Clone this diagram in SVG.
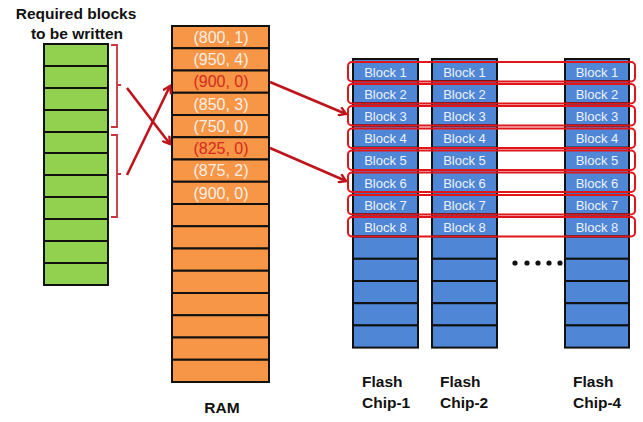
<svg xmlns="http://www.w3.org/2000/svg" width="643" height="422" viewBox="0 0 643 422">
<defs>
<style>
.lbl{font-family:"Liberation Sans",Arial,sans-serif;font-weight:bold;font-size:15.5px;fill:#111}
.g{fill:#92d050;stroke:#111;stroke-width:2}
.o{fill:#f79646;stroke:#111;stroke-width:2}
.b{fill:#4f86d6;stroke:#111;stroke-width:2}
.rt{font-family:"Liberation Sans",Arial,sans-serif;font-size:16px;fill:#f7efe6;text-anchor:middle}
.rr{fill:#d42a1e}
.bt{font-family:"Liberation Sans",Arial,sans-serif;font-size:13px;fill:#eef2fa;text-anchor:middle}
.sel{fill:none;stroke:#e0161b;stroke-width:2}
.br{fill:none;stroke:#c8343a;stroke-width:1.8}
.ar{fill:none;stroke:#c0141c;stroke-width:2.6}
</style>
<marker id="ah" markerWidth="10" markerHeight="10" refX="8" refY="5" orient="auto" markerUnits="userSpaceOnUse">
<path d="M1,0.5 L8,5 L1,9.5" fill="none" stroke="#c0141c" stroke-width="2.4"/>
</marker>
</defs>
<rect width="643" height="422" fill="#fff"/>

<g id="required">
<text class="lbl" x="76" y="19" text-anchor="middle">Required blocks</text>
<text class="lbl" x="77" y="39" text-anchor="middle">to be written</text>
<rect class="g" x="44" y="44" width="64" height="22"/>
<rect class="g" x="44" y="66" width="64" height="22"/>
<rect class="g" x="44" y="88" width="64" height="22"/>
<rect class="g" x="44" y="110" width="64" height="22"/>
<rect class="g" x="44" y="132" width="64" height="21"/>
<rect class="g" x="44" y="153" width="64" height="22"/>
<rect class="g" x="44" y="175" width="64" height="22"/>
<rect class="g" x="44" y="197" width="64" height="22"/>
<rect class="g" x="44" y="219" width="64" height="22"/>
<rect class="g" x="44" y="241" width="64" height="22"/>
<rect class="g" x="44" y="263" width="64" height="22"/>
<path class="br" d="M111,45 H117 V85 H121 M117,85 V127 H111"/>
<path class="br" d="M111,135 H117 V174 H121 M117,174 V217 H111"/>
</g>

<g id="ram">
<rect class="o" x="172" y="26" width="97" height="22.25"/>
<rect class="o" x="172" y="48.25" width="97" height="22.25"/>
<rect class="o" x="172" y="70.5" width="97" height="22.25"/>
<rect class="o" x="172" y="92.75" width="97" height="22.25"/>
<rect class="o" x="172" y="115" width="97" height="22.25"/>
<rect class="o" x="172" y="137.25" width="97" height="22.25"/>
<rect class="o" x="172" y="159.5" width="97" height="22.25"/>
<rect class="o" x="172" y="181.75" width="97" height="22.25"/>
<rect class="o" x="172" y="204" width="97" height="22.25"/>
<rect class="o" x="172" y="226.25" width="97" height="22.25"/>
<rect class="o" x="172" y="248.5" width="97" height="22.25"/>
<rect class="o" x="172" y="270.75" width="97" height="22.25"/>
<rect class="o" x="172" y="293" width="97" height="22.25"/>
<rect class="o" x="172" y="315.25" width="97" height="22.25"/>
<rect class="o" x="172" y="337.5" width="97" height="22.25"/>
<rect class="o" x="172" y="359.75" width="97" height="22.25"/>
<text class="rt" x="221" y="43">(800, 1)</text>
<text class="rt" x="221" y="65">(950, 4)</text>
<text class="rt rr" x="221" y="87">(900, 0)</text>
<text class="rt" x="221" y="110">(850, 3)</text>
<text class="rt" x="221" y="132">(750, 0)</text>
<text class="rt rr" x="221" y="154">(825, 0)</text>
<text class="rt" x="221" y="176">(875, 2)</text>
<text class="rt" x="221" y="199">(900, 0)</text>
<text class="lbl" x="222" y="413" text-anchor="middle">RAM</text>
</g>

<g id="chip1">
<rect class="b" x="353" y="59" width="65" height="22.2"/>
<rect class="b" x="353" y="81.2" width="65" height="22.2"/>
<rect class="b" x="353" y="103.4" width="65" height="22.2"/>
<rect class="b" x="353" y="125.6" width="65" height="22.2"/>
<rect class="b" x="353" y="147.8" width="65" height="22.2"/>
<rect class="b" x="353" y="170" width="65" height="22.2"/>
<rect class="b" x="353" y="192.2" width="65" height="22.2"/>
<rect class="b" x="353" y="214.4" width="65" height="22.2"/>
<rect class="b" x="353" y="236.6" width="65" height="22.2"/>
<rect class="b" x="353" y="258.8" width="65" height="22.2"/>
<rect class="b" x="353" y="281" width="65" height="22.2"/>
<rect class="b" x="353" y="303.2" width="65" height="22.2"/>
<rect class="b" x="353" y="325.4" width="65" height="22.2"/>
<text class="bt" x="385.5" y="77">Block 1</text>
<text class="bt" x="385.5" y="99">Block 2</text>
<text class="bt" x="385.5" y="121">Block 3</text>
<text class="bt" x="385.5" y="143">Block 4</text>
<text class="bt" x="385.5" y="165">Block 5</text>
<text class="bt" x="385.5" y="187.5">Block 6</text>
<text class="bt" x="385.5" y="209.5">Block 7</text>
<text class="bt" x="385.5" y="231.5">Block 8</text>
<text class="lbl" x="362" y="387">Flash</text>
<text class="lbl" x="362" y="408">Chip-1</text>
</g>

<g id="chip2">
<rect class="b" x="432" y="59" width="65" height="22.2"/>
<rect class="b" x="432" y="81.2" width="65" height="22.2"/>
<rect class="b" x="432" y="103.4" width="65" height="22.2"/>
<rect class="b" x="432" y="125.6" width="65" height="22.2"/>
<rect class="b" x="432" y="147.8" width="65" height="22.2"/>
<rect class="b" x="432" y="170" width="65" height="22.2"/>
<rect class="b" x="432" y="192.2" width="65" height="22.2"/>
<rect class="b" x="432" y="214.4" width="65" height="22.2"/>
<rect class="b" x="432" y="236.6" width="65" height="22.2"/>
<rect class="b" x="432" y="258.8" width="65" height="22.2"/>
<rect class="b" x="432" y="281" width="65" height="22.2"/>
<rect class="b" x="432" y="303.2" width="65" height="22.2"/>
<rect class="b" x="432" y="325.4" width="65" height="22.2"/>
<text class="bt" x="464.5" y="77">Block 1</text>
<text class="bt" x="464.5" y="99">Block 2</text>
<text class="bt" x="464.5" y="121">Block 3</text>
<text class="bt" x="464.5" y="143">Block 4</text>
<text class="bt" x="464.5" y="165">Block 5</text>
<text class="bt" x="464.5" y="187.5">Block 6</text>
<text class="bt" x="464.5" y="209.5">Block 7</text>
<text class="bt" x="464.5" y="231.5">Block 8</text>
<text class="lbl" x="440" y="387">Flash</text>
<text class="lbl" x="440" y="408">Chip-2</text>
</g>

<g id="dots" fill="#111">
<circle cx="515" cy="263" r="2.6"/>
<circle cx="527" cy="263" r="2.6"/>
<circle cx="538" cy="263" r="2.6"/>
<circle cx="549" cy="263" r="2.6"/>
<circle cx="560" cy="263" r="2.6"/>
</g>

<g id="chip4">
<rect class="b" x="565" y="59" width="64" height="22.2"/>
<rect class="b" x="565" y="81.2" width="64" height="22.2"/>
<rect class="b" x="565" y="103.4" width="64" height="22.2"/>
<rect class="b" x="565" y="125.6" width="64" height="22.2"/>
<rect class="b" x="565" y="147.8" width="64" height="22.2"/>
<rect class="b" x="565" y="170" width="64" height="22.2"/>
<rect class="b" x="565" y="192.2" width="64" height="22.2"/>
<rect class="b" x="565" y="214.4" width="64" height="22.2"/>
<rect class="b" x="565" y="236.6" width="64" height="22.2"/>
<rect class="b" x="565" y="258.8" width="64" height="22.2"/>
<rect class="b" x="565" y="281" width="64" height="22.2"/>
<rect class="b" x="565" y="303.2" width="64" height="22.2"/>
<rect class="b" x="565" y="325.4" width="64" height="22.2"/>
<text class="bt" x="597" y="77">Block 1</text>
<text class="bt" x="597" y="99">Block 2</text>
<text class="bt" x="597" y="121">Block 3</text>
<text class="bt" x="597" y="143">Block 4</text>
<text class="bt" x="597" y="165">Block 5</text>
<text class="bt" x="597" y="187.5">Block 6</text>
<text class="bt" x="597" y="209.5">Block 7</text>
<text class="bt" x="597" y="231.5">Block 8</text>
<text class="lbl" x="573" y="387">Flash</text>
<text class="lbl" x="573" y="408">Chip-4</text>
</g>

<g id="stripes">
<rect class="sel" x="348" y="62" width="287" height="19.5" rx="4"/>
<rect class="sel" x="348" y="84" width="287" height="19.5" rx="4"/>
<rect class="sel" x="348" y="106" width="287" height="19.5" rx="4"/>
<rect class="sel" x="348" y="128.5" width="287" height="19.5" rx="4"/>
<rect class="sel" x="348" y="150.5" width="287" height="19.5" rx="4"/>
<rect class="sel" x="348" y="172.5" width="287" height="19.5" rx="4"/>
<rect class="sel" x="348" y="195" width="287" height="19.5" rx="4"/>
<rect class="sel" x="348" y="217" width="287" height="19.5" rx="4"/>
</g>

<g id="connectors">
<line class="ar" x1="127" y1="88" x2="170" y2="144" marker-end="url(#ah)"/>
<line class="ar" x1="127" y1="175" x2="170" y2="86" marker-end="url(#ah)"/>
<line class="ar" x1="270" y1="82" x2="346" y2="114" marker-end="url(#ah)"/>
<line class="ar" x1="270" y1="148" x2="346" y2="181" marker-end="url(#ah)"/>
</g>
</svg>
